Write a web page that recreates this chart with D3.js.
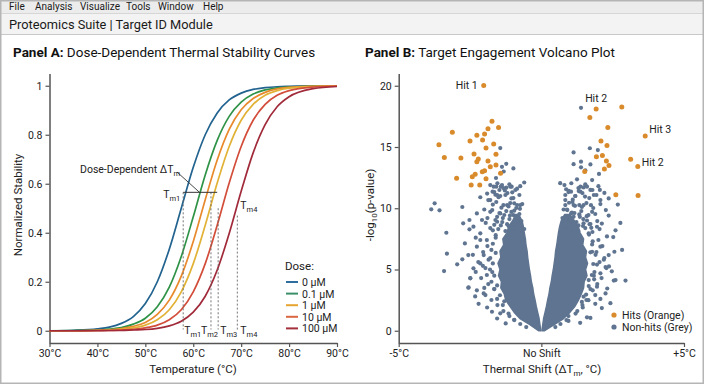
<!DOCTYPE html>
<html>
<head>
<meta charset="utf-8">
<script src="https://cdn.jsdelivr.net/npm/d3@7"></script>
<style>
    body { margin: 0; background: #fff; }
    svg { display: block; font-family: Roboto, "Liberation Sans", Arial, sans-serif; }
</style>
</head>
<body>
<svg id="chart" width="704" height="384"></svg>
<script>
// Menu / header
var menuItems = ["File", "Analysis", "Visualize", "Tools", "Window", "Help"];
var windowTitle = "Proteomics Suite | Target ID Module";

// Panel A: melt curves (normalized stability vs temperature)
var temps = [30, 35, 40, 42.5, 45, 47.5, 50, 52.5, 55, 57.5, 60, 62.5, 65, 67.5, 70, 72.5, 75, 77.5, 80, 85, 90];
var curve0 = [0.000, 0.002, 0.008, 0.015, 0.030, 0.058, 0.111, 0.200, 0.333, 0.500, 0.667, 0.800, 0.889, 0.942, 0.970, 0.985, 0.992, 0.996, 0.998, 1.000, 1.000];
var curve1 = [0.000, 0.001, 0.003, 0.007, 0.013, 0.027, 0.051, 0.098, 0.178, 0.303, 0.465, 0.636, 0.777, 0.875, 0.933, 0.966, 0.983, 0.991, 0.995, 0.999, 1.000];
var curve2 = [0.000, 0.000, 0.002, 0.004, 0.009, 0.018, 0.034, 0.067, 0.125, 0.223, 0.364, 0.535, 0.697, 0.822, 0.902, 0.948, 0.973, 0.987, 0.993, 0.998, 1.000];
var curve3 = [0.000, 0.000, 0.001, 0.003, 0.006, 0.012, 0.023, 0.045, 0.086, 0.159, 0.274, 0.431, 0.603, 0.752, 0.859, 0.924, 0.961, 0.980, 0.990, 0.997, 0.999];
var curve4 = [0.000, 0.000, 0.001, 0.001, 0.003, 0.006, 0.012, 0.023, 0.045, 0.086, 0.159, 0.274, 0.431, 0.603, 0.752, 0.859, 0.924, 0.961, 0.980, 0.995, 0.999];
var curve5 = [0.000, 0.000, 0.000, 0.001, 0.001, 0.003, 0.005, 0.010, 0.020, 0.039, 0.076, 0.141, 0.248, 0.397, 0.569, 0.726, 0.841, 0.914, 0.955, 0.988, 0.997];
var curveColors = ["#22638f", "#2f9347", "#e8892c", "#e2b236", "#d24d3a", "#a12a3a"];

var doseLabels = ["0 µM", "0.1 µM", "1 µM", "10 µM", "100 µM"];
var doseColors = ["#2d6e9e", "#3a8f6a", "#e6a532", "#d9673f", "#a3303c"];

var tempTicks = [30, 40, 50, 60, 70, 80, 90];
var stabTicks = [0, 0.2, 0.4, 0.6, 0.8, 1];

// Tm markers: temperature, top of dashed line (stability)
var tmNames = ["m1", "m2", "m3", "m4"];
var tmTemps = [57.9, 63.7, 65.2, 69.2];
var tmTops = [0.565, 0.565, 0.50, 0.47];
var deltaBracket = [57.9, 65.0, 0.565];

// Panel B: volcano plot
var hitsX = [-2.02, -1.73, -3.12, -1.50, -1.87, -2.26, -1.99, -2.50, -2.06, -3.59, -1.67, -1.94, -2.36, -1.59, -3.40, -2.82, -2.21, -2.26, -1.87, -1.59, -1.79, -1.99, -2.07, -1.43, -2.32, -2.97, -2.42, -1.94, -2.46, -2.16,
    1.92, 2.82, 1.70, 2.33, 3.64, 2.09, 2.30, 1.93, 2.14, 2.28, 2.37, 2.21, 1.52, 3.13, 3.38, 2.61, 3.39];
var hitsY = [20.03, 17.1, 16.2, 16.6, 16.5, 15.95, 16.06, 15.49, 15.57, 15.18, 15.24, 14.91, 14.42, 14.40, 14.15, 14.10, 14.02, 13.80, 13.85, 13.53, 13.39, 13.06, 12.98, 12.85, 12.77, 12.44, 12.57, 12.41, 11.89, 11.89,
    18.1, 18.26, 17.4, 16.6, 15.9, 15.5, 15.13, 14.2, 14.3, 13.85, 13.5, 13.2, 13.0, 14.0, 13.4, 11.1, 11.05];
var hitLabels = ["Hit 1", "Hit 2", "Hit 3", "Hit 2"];
var hitLabelX = [-2.02, 1.92, 3.64, 3.38];
var hitLabelY = [20.03, 18.1, 15.9, 13.4];

// non-hits that can be told apart
var greyX = [-3.74, -3.86, -3.57, -2.77, -2.52, -2.74, -2.52, -3.33, -2.68, -3.31, -2.56, -2.77, -2.95, -3.41, -2.49, -2.56,
    -1.44, -1.23, -1.38, -0.98, -1.32, -1.59, -1.58, -1.42, -1.23, -1.04, -1.71, -1.47, -2.14, -1.61,
    -1.73, -1.44, -2.02, -2.32, -2.55, -2.26, -2.49, -2.38, -1.91, -2.14, -2.02, -2.26, -1.91, -2.14, -2.38, -2.08, -2.26, -1.79, -1.79, -1.67, -1.38, -1.09, -1.55, -1.26, -0.85, -0.74, -1.20, -1.44,
    -1.70, -1.55, -1.35, -1.10, -0.95, -1.60, -1.75, -1.85, -1.80, -1.75, -1.65, -1.55, -1.35, -1.15, -0.95, -1.20, -0.90, -1.05, -0.80,
    -1.79, -1.54, -1.33, -1.12, -0.91, -0.74, -1.65, -1.44, -1.19, -0.98, -0.77, -1.86, -1.58, -1.33, -1.09, -0.88, -0.67, -1.72, -1.47, -1.23, -0.98, -0.77, -1.89, -1.61, -1.37, -1.12, -0.91, -0.70, -1.79, -1.51, -1.26, -1.02, -0.81, -0.60,
    -2.14, -1.89, -2.04, -1.79, -2.21, -1.96, -1.72, -2.11, -1.86, -1.65, -1.96, -1.75, -1.54, -1.33, -1.12, -0.95, -0.74, -0.53,
    -1.02, -0.85, -1.28, -1.50, -1.70, -1.40, -1.15, -0.95, -0.75, -1.55, -1.30, -1.05, -0.85, -1.65, -1.42, -1.15, -0.95, -1.60, -1.70, -1.60, -1.70, -1.65, -1.55, -1.45, -1.30, -0.60, -1.90, -2.00, -1.95, -2.30, -2.40, -2.05, -2.30, -2.00, -2.20, -1.90, -1.55, -1.25,
    1.39, 1.13, 1.70, 1.98, 1.39, 1.13, 1.72, 1.39, 1.54, 2.02, 1.25, 1.78, 1.48, 0.96, 1.37, 1.72, 2.05, 0.84, 1.19, 1.84, 2.36,
    2.83, 2.95, 2.54, 2.68, 2.77, 2.60, 2.36, 2.30, 2.19, 1.95, 1.60, 1.89, 2.07, 2.25, 1.84,
    1.37, 1.60, 2.07, 0.84, 1.13, 1.48, 1.78, 1.13, 1.48, 1.95, 1.66, 2.07, 1.78, 2.36, 2.07, 1.66, 2.25, 1.48, 2.60,
    1.75, 1.60, 1.35, 1.05, 0.90, 1.80, 1.90, 1.95, 1.85, 1.80, 1.65, 1.45, 1.20, 0.95, 1.30, 1.00, 1.10, 0.85,
    0.81, 1.05, 1.30, 1.54, 1.79, 2.00, 0.95, 1.19, 1.44, 1.68, 1.93, 0.84, 1.09, 1.33, 1.58, 1.82, 2.07, 0.91, 1.16, 1.40, 1.65, 1.89, 0.74, 0.98, 1.23, 1.47, 1.72, 1.96, 0.81, 1.05, 1.30, 1.54, 1.79, 2.04,
    2.00, 2.14, 1.93, 2.21, 2.04, 2.28, 1.86, 2.11, 1.96, 1.72, 1.89, 1.58, 1.44, 1.26, 0.95, 0.88, 0.67, 0.49,
    1.04, 0.87, 1.31, 1.53, 1.74, 1.42, 1.18, 0.97, 0.78, 1.59, 1.33, 1.07, 0.88, 1.69, 1.46, 1.19, 0.97, 1.67, 1.78, 1.72, 1.82, 1.77, 1.66, 1.57, 1.42, 0.66, 2.21, 2.26, 2.12, 2.52, 2.56, 2.37, 2.47, 2.31, 2.42, 2.12, 1.72, 1.36];
var greyY = [10.4, 9.91, 9.83, 10.1, 9.04, 8.77, 8.28, 8.0, 7.13, 6.29, 6.18, 5.83, 5.42, 4.87, 4.30, 3.51,
    14.91, 13.63, 13.38, 13.25, 13.0, 12.47, 11.76, 11.76, 11.68, 11.76, 11.35, 11.49, 10.9, 11.1,
    1.55, 1.42, 3.05, 2.8, 3.54, 3.3, 4.28, 5.1, 4.55, 5.5, 6.18, 6.86, 7.4, 7.95, 8.5, 9.04, 9.58, 9.71, 10.67, 11.76, 11.9, 11.76, 11.08, 11.08, 10.26, 10.26, 10.26, 9.58,
    8.2, 8.9, 9.2, 9.4, 9.8, 7.6, 6.6, 5.8, 5.0, 4.0, 3.4, 2.6, 2.1, 1.4, 0.9, 8.7, 8.9, 10.8, 9.2,
    11.89, 12.04, 11.65, 11.96, 11.49, 11.80, 11.32, 11.0, 11.24, 10.83, 11.08, 10.67, 10.51, 10.26, 10.42, 10.02, 10.34, 9.85, 9.61, 9.77, 9.44, 9.53, 9.20, 9.04, 8.87, 9.12, 8.71, 8.95, 8.38, 8.30, 8.14, 8.38, 8.06, 8.30,
    7.41, 6.91, 6.42, 5.93, 5.61, 5.12, 4.79, 4.30, 3.81, 3.40, 2.91, 2.51, 2.10, 1.61, 1.20, 0.87, 0.55, 0.30,
    11.3, 11.6, 11.45, 10.9, 10.3, 10.05, 10.15, 10.4, 9.95, 9.3, 9.45, 9.7, 9.25, 8.65, 8.6, 8.55, 8.15, 7.8, 7.1, 6.35, 5.5, 4.5, 3.7, 2.9, 2.4, 12.1, 11.2, 9.9, 8.8, 7.6, 6.2, 5.3, 4.8, 3.5, 2.2, 1.9, 1.0, 0.6,
    18.2, 14.56, 14.9, 14.75, 13.8, 13.6, 13.58, 13.34, 13.1, 12.8, 12.36, 12.3, 11.7, 11.43, 11.35, 11.5, 11.5, 11.08, 11.0, 11.08, 10.8,
    6.6, 4.1, 4.1, 10.3, 8.8, 8.2, 9.4, 7.7, 5.8, 3.6, 1.1, 2.2, 2.6, 5.2, 4.5,
    11.76, 11.76, 10.67, 10.26, 10.26, 10.26, 9.71, 9.3, 8.77, 8.49, 7.95, 6.86, 6.45, 6.18, 4.69, 4.14, 3.05, 2.78, 4.14,
    8.4, 9.0, 9.3, 9.6, 9.9, 7.3, 6.2, 5.4, 4.2, 3.3, 2.5, 1.9, 1.4, 0.8, 8.6, 8.9, 10.7, 9.3,
    11.89, 12.04, 11.65, 11.96, 11.49, 11.80, 11.32, 11.0, 11.24, 10.83, 11.08, 10.67, 10.51, 10.26, 10.42, 10.02, 10.34, 9.85, 9.61, 9.77, 9.44, 9.53, 9.20, 9.04, 8.87, 9.12, 8.71, 8.95, 8.38, 8.30, 8.14, 8.38, 8.06, 8.30,
    7.41, 6.91, 6.42, 5.93, 5.61, 5.12, 4.79, 4.30, 3.81, 3.40, 2.91, 2.51, 2.10, 1.61, 1.20, 0.87, 0.55, 0.30,
    11.35, 11.55, 11.4, 10.95, 10.25, 10.1, 10.2, 10.45, 9.9, 9.35, 9.5, 9.65, 9.2, 8.7, 8.55, 8.5, 8.2, 7.85, 7.05, 6.4, 5.45, 4.55, 3.65, 2.95, 2.35, 12.05, 11.25, 9.85, 8.75, 7.65, 6.45, 5.25, 4.85, 3.45, 2.25, 1.85, 1.05, 0.65];

// dense core of non-hits (too packed to separate single dots): level, inner and outer shift
var coreLevels = [0, 0.5, 1, 1.5, 2, 2.5, 3, 3.5, 4, 4.5, 5, 5.5, 6, 6.5, 7, 7.5, 8, 8.5, 9, 9.5];
var coreLeftOuter = [-0.1, -0.4, -0.75, -0.95, -1.1, -1.25, -1.3, -1.42, -1.4, -1.5, -1.45, -1.52, -1.42, -1.45, -1.32, -1.35, -1.2, -1.15, -1.0, -0.9];
var coreLeftInner = [-0.02, -0.05, -0.08, -0.13, -0.18, -0.22, -0.27, -0.3, -0.35, -0.38, -0.42, -0.45, -0.48, -0.5, -0.54, -0.56, -0.6, -0.63, -0.68, -0.8];
var coreRightInner = [0.02, 0.05, 0.08, 0.13, 0.18, 0.22, 0.27, 0.3, 0.35, 0.38, 0.42, 0.45, 0.48, 0.5, 0.54, 0.57, 0.6, 0.64, 0.7, 0.82];
var coreRightOuter = [0.1, 0.45, 0.78, 1.0, 1.18, 1.3, 1.4, 1.48, 1.5, 1.6, 1.55, 1.62, 1.55, 1.58, 1.45, 1.48, 1.35, 1.3, 1.15, 1.0];

var shiftTicks = [-5, 0, 5];
var shiftTickLabels = ["-5°C", "No Shift", "+5°C"];
var pTicks = [0, 5, 10, 15, 20];

var hitColor = "#d98b2c";
var greyColor = "#5f7490";
var axisColor = "#555";

var svg = d3.select("#chart");

// ---- window chrome ----
svg.append("rect").attr("x", 0).attr("y", 0).attr("width", 704).attr("height", 384).attr("fill", "#fff");
svg.append("rect").attr("x", 0).attr("y", 0).attr("width", 704).attr("height", 13).attr("fill", "#ececec");
svg.append("rect").attr("x", 0).attr("y", 13).attr("width", 704).attr("height", 21).attr("fill", "#f3f3f3");
svg.append("line").attr("x1", 0).attr("x2", 704).attr("y1", 13.5).attr("y2", 13.5).attr("stroke", "#d6d6d6");
svg.append("line").attr("x1", 0).attr("x2", 704).attr("y1", 34.5).attr("y2", 34.5).attr("stroke", "#c8c8c8");
svg.append("rect").attr("x", 0.75).attr("y", 0.75).attr("width", 702.5).attr("height", 382.5)
    .attr("fill", "none").attr("stroke", "#b5b5b5").attr("stroke-width", 1.5);

var menuX = [9, 35, 80, 126, 158, 203];
svg.selectAll("text.menu")
    .data(menuItems)
    .enter()
    .append("text")
    .attr("class", "menu")
    .attr("x", function(d, i) { return menuX[i]; })
    .attr("y", 10)
    .attr("font-size", 10)
    .attr("fill", "#1a1a1a")
    .text(function(d) { return d; });

svg.append("text")
    .attr("x", 9).attr("y", 28.5)
    .attr("font-size", 12.8)
    .attr("fill", "#1a1a1a")
    .text(windowTitle);

function panelTitle(x, bold, rest) {
    var t = svg.append("text").attr("x", x).attr("y", 57).attr("font-size", 13.5).attr("fill", "#111");
    t.append("tspan").attr("font-weight", "bold").text(bold);
    t.append("tspan").text(" " + rest);
}
panelTitle(13, "Panel A:", "Dose-Dependent Thermal Stability Curves");
panelTitle(365, "Panel B:", "Target Engagement Volcano Plot");

function styleAxis(g) {
    g.selectAll("path.domain").attr("stroke", axisColor).attr("stroke-width", 1.5);
    g.selectAll(".tick line").attr("stroke", axisColor).attr("stroke-width", 1.2);
    g.selectAll(".tick text").attr("font-size", 10.5).attr("fill", "#222")
        .attr("font-family", "Roboto, Liberation Sans, Arial, sans-serif");
}

// ---- Panel A ----
var xA = d3.scaleLinear().domain([30, 90]).range([49.5, 337]);
var yA = d3.scaleLinear().domain([-0.05, 1.05]).range([343, 73.5]);

var gxA = svg.append("g").attr("transform", "translate(0,343)")
    .call(d3.axisBottom(xA).tickValues(tempTicks).tickSize(4).tickSizeOuter(0).tickPadding(3)
        .tickFormat(function(d) { return d + "°C"; }));
styleAxis(gxA);
var gyA = svg.append("g").attr("transform", "translate(49.5,0)")
    .call(d3.axisLeft(yA).tickValues(stabTicks).tickSize(4).tickSizeOuter(0).tickPadding(3)
        .tickFormat(d3.format("~g")));
styleAxis(gyA);

svg.append("text").attr("x", 193).attr("y", 373).attr("text-anchor", "middle")
    .attr("font-size", 11.5).attr("fill", "#222").text("Temperature (°C)");
svg.append("text").attr("transform", "translate(22,205) rotate(-90)").attr("text-anchor", "middle")
    .attr("font-size", 11.5).attr("fill", "#222").text("Normalized Stability");

var curves = [curve0, curve1, curve2, curve3, curve4, curve5];
var line = d3.line()
    .x(function(d, i) { return xA(temps[i]); })
    .y(function(d) { return yA(d); })
    .curve(d3.curveMonotoneX);

svg.selectAll("path.melt")
    .data(curves)
    .enter()
    .append("path")
    .attr("class", "melt")
    .attr("d", line)
    .attr("fill", "none")
    .attr("stroke", function(d, i) { return curveColors[i]; })
    .attr("stroke-width", 1.7);

// Tm dashed drop lines
svg.selectAll("line.tm")
    .data(tmTemps)
    .enter()
    .append("line")
    .attr("class", "tm")
    .attr("x1", function(d) { return xA(d); })
    .attr("x2", function(d) { return xA(d); })
    .attr("y1", function(d, i) { return yA(tmTops[i]); })
    .attr("y2", yA(0.005))
    .attr("stroke", "#666")
    .attr("stroke-width", 0.9)
    .attr("stroke-dasharray", "2,2");

function tmLabel(x, y, sub, anchor) {
    var t = svg.append("text").attr("x", x).attr("y", y).attr("font-size", 10.5).attr("fill", "#222")
        .attr("text-anchor", anchor || "start");
    t.append("tspan").text("T");
    t.append("tspan").attr("font-size", 7.5).attr("dy", 3).text(sub);
}
var tmLabelShift = [1, -10, 2, 3];
tmNames.forEach(function(n, i) {
    tmLabel(xA(tmTemps[i]) + tmLabelShift[i], 334, n);
});
tmLabel(xA(tmTemps[0]) - 3, yA(0.54), tmNames[0], "end");
tmLabel(xA(tmTemps[3]) + 3, yA(0.495), tmNames[3]);

// delta Tm bracket + annotation
svg.append("line")
    .attr("x1", xA(deltaBracket[0])).attr("x2", xA(deltaBracket[1]))
    .attr("y1", yA(deltaBracket[2])).attr("y2", yA(deltaBracket[2]))
    .attr("stroke", "#333").attr("stroke-width", 1);
svg.append("line")
    .attr("x1", 177).attr("y1", 172)
    .attr("x2", xA(61.3)).attr("y2", yA(deltaBracket[2]))
    .attr("stroke", "#333").attr("stroke-width", 0.9);
var ann = svg.append("text").attr("x", 80).attr("y", 173).attr("font-size", 10.5).attr("fill", "#222");
ann.append("tspan").text("Dose-Dependent ΔT");
ann.append("tspan").attr("font-size", 7.5).attr("dy", 3).text("m");

// legend
svg.append("text").attr("x", 285).attr("y", 270).attr("font-size", 11.5).attr("fill", "#222").text("Dose:");
var leg = svg.selectAll("g.dose")
    .data(doseLabels)
    .enter()
    .append("g")
    .attr("class", "dose")
    .attr("transform", function(d, i) { return "translate(286," + (282 + i * 11.6) + ")"; });
leg.append("line").attr("x1", 0).attr("x2", 12).attr("y1", 0).attr("y2", 0)
    .attr("stroke", function(d, i) { return doseColors[i]; }).attr("stroke-width", 2);
leg.append("text").attr("x", 16).attr("y", 4).attr("font-size", 10.5).attr("fill", "#222")
    .text(function(d) { return d; });

// ---- Panel B ----
var xB = d3.scaleLinear().domain([-5, 5]).range([398.7, 684]);
var yB = d3.scaleLinear().domain([-1, 21]).range([343, 73.5]);

var gxB = svg.append("g").attr("transform", "translate(0,343)")
    .call(d3.axisBottom(xB).tickValues(shiftTicks).tickSize(4).tickSizeOuter(0).tickPadding(3)
        .tickFormat(function(d, i) { return shiftTickLabels[i]; }));
styleAxis(gxB);
var gyB = svg.append("g").attr("transform", "translate(398.7,0)")
    .call(d3.axisLeft(yB).tickValues(pTicks).tickSize(4).tickSizeOuter(0).tickPadding(3));
styleAxis(gyB);

var xl = svg.append("text").attr("x", 542).attr("y", 373).attr("text-anchor", "middle")
    .attr("font-size", 11.5).attr("fill", "#222");
xl.append("tspan").text("Thermal Shift (ΔT");
xl.append("tspan").attr("font-size", 8).attr("dy", 3).text("m");
xl.append("tspan").attr("dy", -3).text(", °C)");

var yl = svg.append("text").attr("transform", "translate(374,205) rotate(-90)").attr("text-anchor", "middle")
    .attr("font-size", 11.5).attr("fill", "#222");
yl.append("tspan").text("-log");
yl.append("tspan").attr("font-size", 8).attr("dy", 3).text("10");
yl.append("tspan").attr("dy", -3).text("(p-value)");

// dense core
var coreL = coreLevels.map(function(v, i) { return { y: v, x0: coreLeftOuter[i], x1: coreLeftInner[i] }; });
var coreR = coreLevels.map(function(v, i) { return { y: v, x0: coreRightInner[i], x1: coreRightOuter[i] }; });
var coreArea = d3.area()
    .y(function(d) { return yB(d.y); })
    .x0(function(d) { return xB(d.x0); })
    .x1(function(d) { return xB(d.x1); });
svg.selectAll("path.core")
    .data([coreL, coreR])
    .enter()
    .append("path")
    .attr("class", "core")
    .attr("d", coreArea)
    .attr("fill", greyColor)
    .attr("stroke", greyColor)
    .attr("stroke-width", 1.5)
    .attr("stroke-linejoin", "round");

svg.selectAll("circle.grey")
    .data(greyX)
    .enter()
    .append("circle")
    .attr("class", "grey")
    .attr("cx", function(d) { return xB(d); })
    .attr("cy", function(d, i) { return yB(greyY[i]); })
    .attr("r", 2.1)
    .attr("fill", greyColor);

svg.selectAll("circle.hit")
    .data(hitsX)
    .enter()
    .append("circle")
    .attr("class", "hit")
    .attr("cx", function(d) { return xB(d); })
    .attr("cy", function(d, i) { return yB(hitsY[i]); })
    .attr("r", 2.5)
    .attr("fill", hitColor);

var hitDx = [-6, 0, 4, 4];
var hitDy = [4, -7, -3, -1];
var hitAnchor = ["end", "middle", "start", "start"];
svg.selectAll("text.hit")
    .data(hitLabels)
    .enter()
    .append("text")
    .attr("class", "hit")
    .attr("x", function(d, i) { return xB(hitLabelX[i]) + hitDx[i]; })
    .attr("y", function(d, i) { return yB(hitLabelY[i]) + hitDy[i]; })
    .attr("text-anchor", function(d, i) { return hitAnchor[i]; })
    .attr("font-size", 10.5)
    .attr("fill", "#222")
    .text(function(d) { return d; });

// legend B
var legB = [["Hits (Orange)", hitColor], ["Non-hits (Grey)", greyColor]];
var lb = svg.selectAll("g.legb")
    .data(legB)
    .enter()
    .append("g")
    .attr("class", "legb")
    .attr("transform", function(d, i) { return "translate(614," + (315 + i * 12) + ")"; });
lb.append("circle").attr("r", 2.6).attr("fill", function(d) { return d[1]; });
lb.append("text").attr("x", 8).attr("y", 4).attr("font-size", 10.5).attr("fill", "#222")
    .text(function(d) { return d[0]; });
</script>
</body>
</html>
